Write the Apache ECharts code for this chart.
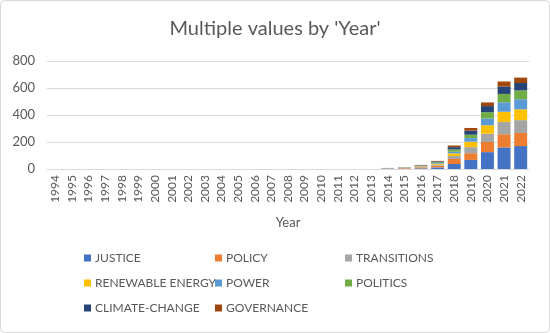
<!DOCTYPE html>
<html><head><meta charset="utf-8">
<script src="https://cdn.jsdelivr.net/npm/echarts@6/dist/echarts.min.js"></script>
<style>html,body{margin:0;padding:0;background:#fff}#c{width:550px;height:333px}</style>
</head><body><div id="c"></div>
<script>
const years = ['1994','1995','1996','1997','1998','1999','2000','2001','2002','2003','2004','2005','2006','2007','2008','2009','2010','2011','2012','2013','2014','2015','2016','2017','2018','2019','2020','2021','2022'];
const pad = n => new Array(n).fill(0);
// values for 2014..2022, preceded by zeros for 1994..2013
const justice     = pad(20).concat([3, 2, 5, 12, 37, 67, 125, 160, 170]);
const policy      = pad(20).concat([2, 4, 7, 12, 37, 50, 75, 97, 97]);
const transitions = pad(20).concat([2, 3, 4, 8, 22, 45, 62, 92, 95]);
const renewable   = pad(20).concat([0, 2, 4, 7, 20, 40, 62, 75, 80]);
const power       = pad(20).concat([1, 1, 3, 5, 12, 27, 50, 70, 75]);
const politics    = pad(20).concat([0, 1, 2, 6, 17, 25, 47, 62, 65]);
const climate     = pad(20).concat([0, 1, 3, 6, 17, 30, 45, 55, 55]);
const governance  = pad(20).concat([0, 0, 2, 4, 12, 20, 27, 37, 40]);

const seriesNames = ['JUSTICE','POLICY','TRANSITIONS','RENEWABLE ENERGY','POWER','POLITICS','CLIMATE-CHANGE','GOVERNANCE'];
const seriesData = [justice, policy, transitions, renewable, power, politics, climate, governance];
const colors = ['#4472C4','#ED7D31','#A5A5A5','#FFC000','#5B9BD5','#70AD47','#264478','#9E480E'];

const font = 'Lato, "Open Sans", sans-serif';
const txt = '#595959';
const chart = echarts.init(document.getElementById('c'), null, {renderer:'canvas'});
const legendBase = {
  orient:'vertical', top:251, padding:0, itemWidth:7, itemHeight:7, itemGap:11, icon:'rect',
  textStyle:{color:txt, fontSize:12, fontFamily:font, padding:[0,0,0,-1], height:14, lineHeight:14}
};
chart.setOption({
  animation:false,
  color: colors,
  title:{text:"Multiple values by 'Year'", left:'center', top:14,
    textStyle:{color:txt, fontSize:20, fontWeight:'normal', fontFamily:font}},
  graphic:[{type:'rect', shape:{x:0.5,y:0.5,width:549,height:332,r:4},
    style:{fill:'none', stroke:'#d9d9d9', lineWidth:1}, silent:true}],
  grid:{left:47, right:21, top:61, height:108, containLabel:false},
  legend:[
    Object.assign({left:84, data:['JUSTICE','RENEWABLE ENERGY','CLIMATE-CHANGE']}, legendBase),
    Object.assign({left:215, data:['POLICY','POWER','GOVERNANCE']}, legendBase),
    Object.assign({left:345, data:['TRANSITIONS','POLITICS']}, legendBase)
  ],
  xAxis:{type:'category', data:years, name:'Year', nameLocation:'middle', nameGap:47,
    nameTextStyle:{color:txt, fontSize:13, fontFamily:font},
    axisLine:{lineStyle:{color:'#d9d9d9'}}, axisTick:{show:false},
    axisLabel:{rotate:90, interval:0, margin:6, color:txt, fontSize:12, fontFamily:font}},
  yAxis:{type:'value', min:0, max:800, interval:200,
    axisLine:{show:false}, axisTick:{show:false},
    splitLine:{lineStyle:{color:'#d9d9d9'}},
    axisLabel:{color:txt, fontSize:13, fontFamily:font, margin:12}},
  series: seriesNames.map((n,i)=>({name:n, type:'bar', stack:'all', barWidth:'78%',
    data:seriesData[i], itemStyle:{color:colors[i]}}))
});
</script></body></html>
